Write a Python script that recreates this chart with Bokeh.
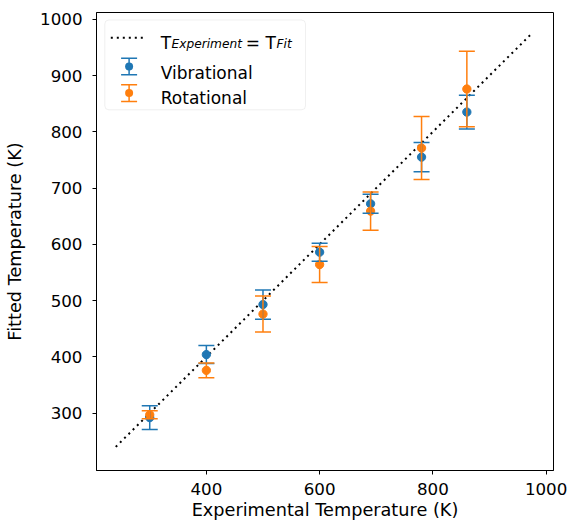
from bokeh.plotting import figure
from bokeh.models import (Range1d, FixedTicker, Whisker, TeeHead, ColumnDataSource,
                          BoxAnnotation, Label, Arrow)
from bokeh.embed import file_html
from bokeh.resources import INLINE

# ---- data ----
temps = [300, 400, 500, 600, 690, 780, 860]
vib_fit = [292, 404, 493, 586, 672, 755, 835]
vib_err = [21, 16, 26, 16, 17, 26, 30]
rot_fit = [297, 376, 476, 564, 659, 771, 876]
rot_err = [7, 13, 32, 32, 34, 56, 67]
ident_t = [240, 972]
x_ticks = [400, 600, 800, 1000]
y_ticks = [300, 400, 500, 600, 700, 800, 900, 1000]

BLUE = "#1f77b4"
ORANGE = "#ff7f0e"
FONT = "DejaVu Sans"

p = figure(frame_width=457, frame_height=458,
           min_border_left=96, min_border_right=15, min_border_top=12, min_border_bottom=54,
           x_range=Range1d(206, 1013), y_range=Range1d(198, 1012),
           output_backend="svg", toolbar_location=None)
p.grid.visible = False
p.outline_line_color = "black"
p.outline_line_alpha = 1
p.outline_line_width = 1
p.background_fill_color = "white"
p.border_fill_color = "white"

for ax, ticks in ((p.xaxis, x_ticks), (p.yaxis, y_ticks)):
    ax.ticker = FixedTicker(ticks=ticks)
    ax.minor_tick_line_color = None
    ax.major_tick_out = 4
    ax.major_tick_in = 0
    ax.axis_line_color = "black"
    ax.major_tick_line_color = "black"
    ax.major_label_text_font = FONT
    ax.major_label_text_font_size = "16.7px"
    ax.major_label_text_color = "black"
    ax.axis_label_text_font = FONT
    ax.axis_label_text_font_size = "17.7px"
    ax.axis_label_text_font_style = "normal"
    ax.axis_label_text_color = "black"

p.xaxis.axis_label = "Experimental Temperature (K)"
p.yaxis.axis_label = "Fitted Temperature (K)"
p.xaxis.major_label_standoff = 8
p.xaxis.axis_label_standoff = 2
p.yaxis.major_label_standoff = 10
p.yaxis.axis_label_standoff = 12

# identity line
p.line(ident_t, ident_t, line_dash="2 4", line_width=2, color="black")

def series(vals, errs, color):
    src = ColumnDataSource(dict(
        x=temps, y=vals,
        lo=[v - e for v, e in zip(vals, errs)],
        hi=[v + e for v, e in zip(vals, errs)]))
    w = Whisker(source=src, base="x", upper="hi", lower="lo", dimension="height",
                line_color=color, line_width=1.5,
                upper_head=TeeHead(size=16, line_color=color, line_width=1.5),
                lower_head=TeeHead(size=16, line_color=color, line_width=1.5),
                level="glyph")
    p.add_layout(w)
    p.scatter("x", "y", source=src, size=8.3, color=color)

series(vib_fit, vib_err, BLUE)
series(rot_fit, rot_err, ORANGE)

# ---- legend (screen units, relative to frame bottom-left) ----
p.add_layout(BoxAnnotation(left=8.3, right=209, bottom=360.7, top=450.5,
                           left_units="screen", right_units="screen",
                           bottom_units="screen", top_units="screen",
                           fill_color="white", fill_alpha=0.8,
                           line_color="#cccccc", line_width=1, border_radius=4))
p.add_layout(Arrow(x_start=14.3, y_start=432.7, x_end=49.3, y_end=432.7,
                   start_units="screen", end_units="screen", end=None,
                   line_dash="2 4", line_width=2, line_color="black"))

def lab(x, y, text, size, style="normal"):
    p.add_layout(Label(x=x, y=y, x_units="screen", y_units="screen", text=text,
                       text_font=FONT, text_font_size=size, text_font_style=style,
                       text_color="black", text_baseline="alphabetic", text_align="left"))

lab(64.3, 427.4, "T", "17px")
lab(75.0, 426.2, "Experiment", "12.2px", "italic")
lab(149.3, 427.4, "= T", "17px")
lab(180.0, 426.2, "Fit", "12.2px", "italic")
lab(64.3, 397.4, "Vibrational", "17px")
lab(64.3, 372.4, "Rotational", "17px")

def legend_err(cy, color):
    p.add_layout(Arrow(x_start=32.6, y_start=cy - 8.3, x_end=32.6, y_end=cy + 8.3,
                       start_units="screen", end_units="screen",
                       start=TeeHead(size=16, line_color=color, line_width=1.5),
                       end=TeeHead(size=16, line_color=color, line_width=1.5),
                       line_color=color, line_width=1.5))
    p.add_layout(BoxAnnotation(left=28.6, right=36.6, bottom=cy - 4, top=cy + 4,
                               left_units="screen", right_units="screen",
                               bottom_units="screen", top_units="screen",
                               fill_color=color, fill_alpha=1, line_alpha=0,
                               border_radius=4))

legend_err(404.0, BLUE)
legend_err(377.4, ORANGE)

open("out.html", "w").write(file_html(p, INLINE))
